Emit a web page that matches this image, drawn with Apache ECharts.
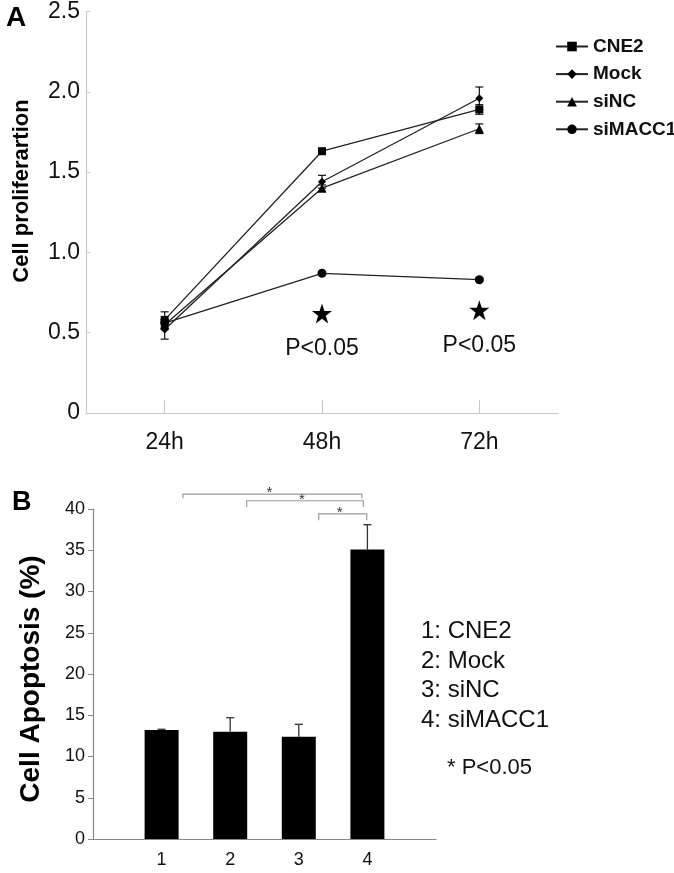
<!DOCTYPE html>
<html>
<head>
<meta charset="utf-8">
<script src="https://cdn.jsdelivr.net/npm/echarts@6/dist/echarts.min.js"></script>
<style>
html,body{margin:0;padding:0;background:#fff;}
#chart{width:674px;height:873px;}
</style>
</head>
<body>
<div id="chart"></div>
<script>
// ---------- Panel A data ----------
const timepoints = ['24h', '48h', '72h'];
const groupNames = ['CNE2', 'Mock', 'siNC', 'siMACC1'];
const cne2 = [0.58, 1.63, 1.89];
const mock = [0.52, 1.44, 1.96];
const sinc = [0.55, 1.40, 1.77];
const simacc1 = [0.56, 0.87, 0.83];
const cne2Err = [0.05, 0.01, 0.03];
const mockErr = [0.06, 0.04, 0.07];
const sincErr = [0.03, 0.02, 0.03];
const simacc1Err = [0.02, 0.01, 0.01];
const sigTimes = ['48h', '72h'];
const sigStarY = [0.62, 0.64];
const sigText = 'P<0.05';

// ---------- Panel B data ----------
const barLabels = ['1', '2', '3', '4'];
const barPositions = [1, 2, 3, 4];
const apoptosis = [13.2, 13.0, 12.4, 35.1];
const apoptosisErr = [0.1, 1.7, 1.5, 3.0];
const bracketFrom = [1.31, 2.24, 3.29];
const bracketTo = [3.92, 3.94, 3.99];
const bracketY = [41.8, 41.0, 39.4];
const bracketLeg = [0.5, 0.75, 0.75];
const bracketMark = '*';
const legendB = ['1: CNE2', '2: Mock', '3: siNC', '4: siMACC1'];
const noteB = '* P<0.05';

const sans = "'Liberation Sans', Arial, sans-serif";
const lineColor = '#222';
const starPath = 'path://M50,0 L61.8,35.3 L99,35.3 L68.8,57.1 L80.3,92.7 L50,70.7 L19.7,92.7 L31.2,57.1 L1,35.3 L38.2,35.3 Z';

const seriesA = [
  {name: 'CNE2', vals: cne2, err: cne2Err, symbol: 'rect', size: 8},
  {name: 'Mock', vals: mock, err: mockErr, symbol: 'diamond', size: 8},
  {name: 'siNC', vals: sinc, err: sincErr, symbol: 'triangle', size: 9},
  {name: 'siMACC1', vals: simacc1, err: simacc1Err, symbol: 'circle', size: 9}
];

const series = [];
seriesA.forEach(s => {
  series.push({
    type: 'line', name: s.name, xAxisIndex: 0, yAxisIndex: 0,
    data: s.vals, symbol: s.symbol, symbolSize: s.size, showAllSymbol: true,
    lineStyle: {color: lineColor, width: 1.3},
    itemStyle: {color: '#000'}, z: 3
  });
  series.push({
    type: 'custom', xAxisIndex: 0, yAxisIndex: 0, silent: true, z: 2,
    data: s.vals.map((v, i) => [i, v - s.err[i], v + s.err[i]]),
    renderItem: function (params, api) {
      const lo = api.coord([api.value(0), api.value(1)]);
      const hi = api.coord([api.value(0), api.value(2)]);
      const w = 4;
      const st = {stroke: '#111', lineWidth: 1.2};
      return {type: 'group', children: [
        {type: 'line', shape: {x1: lo[0], y1: lo[1], x2: hi[0], y2: hi[1]}, style: st},
        {type: 'line', shape: {x1: lo[0] - w, y1: lo[1], x2: lo[0] + w, y2: lo[1]}, style: st},
        {type: 'line', shape: {x1: hi[0] - w, y1: hi[1], x2: hi[0] + w, y2: hi[1]}, style: st}
      ]};
    }
  });
});
// significance stars in A
series.push({
  type: 'scatter', xAxisIndex: 0, yAxisIndex: 0, silent: true,
  data: sigTimes.map((t, i) => [t, sigStarY[i]]),
  symbol: starPath, symbolSize: 20,
  itemStyle: {color: '#000', opacity: 1},
  label: {show: true, position: 'bottom', distance: 14, formatter: sigText,
    fontFamily: sans, fontSize: 23, color: '#111', opacity: 1}
});

// Panel B bars
series.push({
  type: 'bar', xAxisIndex: 1, yAxisIndex: 1,
  data: barPositions.map((p, i) => [p, apoptosis[i]]),
  barWidth: 34, itemStyle: {color: '#000'}
});
series.push({
  type: 'custom', xAxisIndex: 1, yAxisIndex: 1, silent: true, z: 1,
  data: barPositions.map((p, i) => [p, apoptosis[i], apoptosis[i] + apoptosisErr[i]]),
  renderItem: function (params, api) {
    const lo = api.coord([api.value(0), api.value(1)]);
    const hi = api.coord([api.value(0), api.value(2)]);
    const w = 4;
    const st = {stroke: '#333', lineWidth: 1.3};
    return {type: 'group', children: [
      {type: 'line', shape: {x1: lo[0], y1: lo[1], x2: hi[0], y2: hi[1]}, style: st},
      {type: 'line', shape: {x1: hi[0] - w, y1: hi[1], x2: hi[0] + w, y2: hi[1]}, style: st}
    ]};
  }
});
// brackets in B
series.push({
  type: 'custom', xAxisIndex: 1, yAxisIndex: 1, silent: true, clip: false,
  data: bracketFrom.map((f, i) => [f, bracketTo[i], bracketY[i], bracketLeg[i]]),
  renderItem: function (params, api) {
    const a = api.coord([api.value(0), api.value(2)]);
    const b = api.coord([api.value(1), api.value(2)]);
    const aLeg = api.coord([api.value(0), api.value(2) - api.value(3)]);
    const st = {stroke: '#999', lineWidth: 1.2, fill: null};
    return {type: 'group', children: [
      {type: 'polyline', shape: {points: [[aLeg[0], aLeg[1]], a, b, [b[0], aLeg[1]]]}, style: st},
      {type: 'text', x: (a[0] + b[0]) / 2 - 3, y: a[1] - 1,
        style: {text: bracketMark, fontSize: 15, fontFamily: sans, fill: '#333',
          align: 'center', verticalAlign: 'middle'}}
    ]};
  }
});

const chart = echarts.init(document.getElementById('chart'), null, {renderer: 'canvas'});
chart.setOption({
  backgroundColor: '#fff',
  animation: false,
  legend: {
    data: groupNames, orient: 'vertical', left: 550, top: 32,
    itemWidth: 32, itemHeight: 12, itemGap: 8.6, itemTextGap: 7,
    textStyle: {fontFamily: sans, fontWeight: 'bold', fontSize: 19, color: '#111', lineHeight: 19},
    selectedMode: false
  },
  grid: [
    {left: 86, top: 10, width: 472, height: 403},
    {left: 93, top: 509, width: 343, height: 330}
  ],
  xAxis: [
    {type: 'category', gridIndex: 0, data: timepoints, boundaryGap: true,
      axisLine: {lineStyle: {color: '#c8c8c8', width: 1.2}},
      axisTick: {show: true, inside: true, length: 13, alignWithLabel: true, lineStyle: {color: '#c8c8c8'}},
      axisLabel: {margin: 18, fontFamily: sans, fontSize: 23, color: '#111'},
      splitLine: {show: false}},
    {type: 'value', gridIndex: 1, min: 0, max: 5, interval: 1,
      axisLine: {lineStyle: {color: '#888', width: 1.2}},
      axisTick: {show: false},
      axisLabel: {margin: 12, fontFamily: sans, fontSize: 18, color: '#111',
        formatter: v => { const i = barPositions.indexOf(v); return i >= 0 ? barLabels[i] : ''; }},
      splitLine: {show: false}}
  ],
  yAxis: [
    {type: 'value', gridIndex: 0, min: 0, max: 2.5, interval: 0.5,
      axisLine: {show: true, lineStyle: {color: '#c8c8c8', width: 1.2}},
      axisTick: {show: true, inside: true, length: 4, lineStyle: {color: '#c8c8c8'}},
      axisLabel: {margin: 6, fontFamily: sans, fontSize: 23, color: '#111',
        formatter: v => v === 0 ? '0' : v.toFixed(1)},
      splitLine: {show: false}},
    {type: 'value', gridIndex: 1, min: 0, max: 40, interval: 5,
      axisLine: {show: true, lineStyle: {color: '#888', width: 1.2}},
      axisTick: {show: true, inside: false, length: 5, lineStyle: {color: '#888'}},
      axisLabel: {margin: 8, fontFamily: sans, fontSize: 18, color: '#111'},
      splitLine: {show: false}}
  ],
  graphic: [
    {type: 'text', left: 6, top: 4, style: {text: 'A', fontFamily: sans, fontWeight: 'bold', fontSize: 28, fill: '#000'}},
    {type: 'text', left: 12, top: 489, style: {text: 'B', fontFamily: sans, fontWeight: 'bold', fontSize: 27, fill: '#000'}},
    {type: 'text', x: 22, y: 191, rotation: Math.PI / 2,
      style: {text: 'Cell proliferartion', fontFamily: sans, fontWeight: 'bold', fontSize: 22, fill: '#000', align: 'center', verticalAlign: 'middle'}},
    {type: 'text', x: 31, y: 679, rotation: Math.PI / 2,
      style: {text: 'Cell Apoptosis (%)', fontFamily: sans, fontWeight: 'bold', fontSize: 28, fill: '#000', align: 'center', verticalAlign: 'middle'}},
    {type: 'text', x: 421, y: 617,
      style: {text: legendB.join('\n'), fontFamily: sans, fontSize: 24, lineHeight: 29.5, fill: '#111', align: 'left', verticalAlign: 'top'}},
    {type: 'text', x: 447, y: 768,
      style: {text: noteB, fontFamily: sans, fontSize: 22, fill: '#111', align: 'left', verticalAlign: 'middle'}}
  ],
  series: series
});
</script>
</body>
</html>
